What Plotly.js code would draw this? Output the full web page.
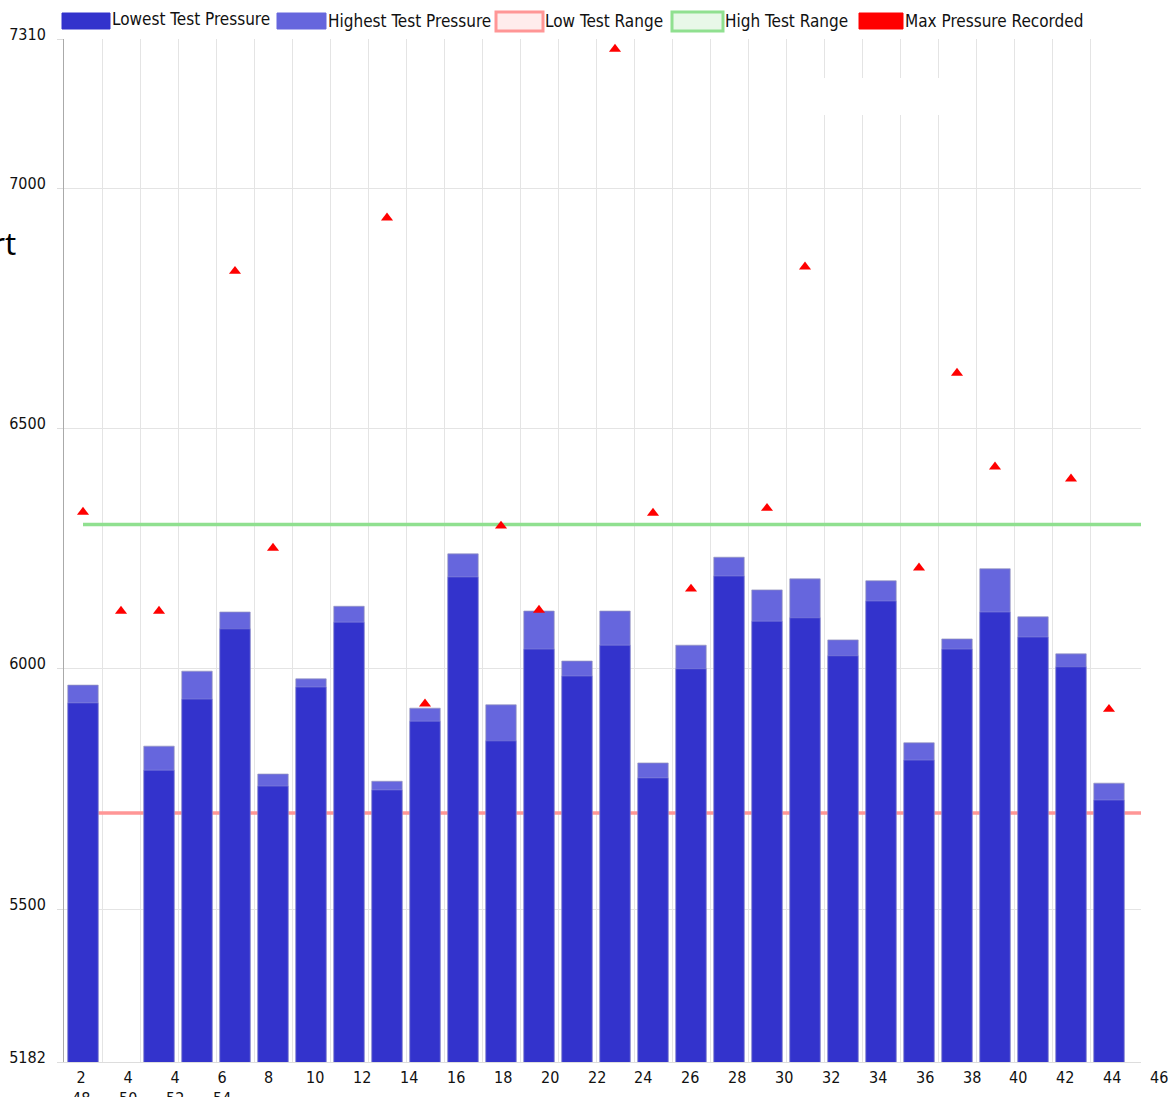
<!DOCTYPE html>
<html>
<head>
<meta charset="utf-8">
<script src="https://cdn.plot.ly/plotly-3.0.1.min.js"></script>
<style>html,body{margin:0;padding:0;background:#fff;}#chart{width:1171px;height:1097px;}</style>
</head>
<body>
<div id="chart"></div>
<script>
// ---------------- DATA ----------------
const categories = ["T01","T02","T03","T04","T05","T06","T07","T08","T09","T10","T11","T12","T13","T14",
                    "T15","T16","T17","T18","T19","T20","T21","T22","T23","T24","T25","T26","T27","T28"];
const lowestPressure  = [5929, null, 5789, 5937, 6083, 5756, 5962, 6097, 5748, 5891, 6191, 5850, 6041, 5985,
                         6049, 5773, 6000, 6193, 6099, 6106, 6027, 6141, 5810, 6041, 6118, 6066, 6004, 5727];
const highestPressure = [5966, null, 5839, 5995, 6118, 5781, 5979, 6130, 5766, 5918, 6239, 5925, 6120, 6016,
                         6120, 5804, 6049, 6232, 6164, 6187, 6060, 6183, 5846, 6062, 6208, 6108, 6031, 5762];
const maxRecorded     = [6326, 6120, 6120, null, 6827, 6251, null, null, 6938, 5927, null, 6297, 6122, null,
                         7289, 6324, 6166, null, 6334, 6836, null, null, 6210, 6615, 6420, null, 6395, 5916];
const lowTestRange  = 5700;
const highTestRange = 6300;
const seriesNames = ["Lowest Test Pressure","Highest Test Pressure","Low Test Range","High Test Range","Max Pressure Recorded"];
const xTickLabels    = ["2","4","4","6","8","10","12","14","16","18","20","22","24","26","28","30","32","34","36","38","40","42","44","46"];
const xTickLabelsRow2 = ["48","50","52","54"];
const yTicks = [5182, 5500, 6000, 6500, 7000, 7310];
const yRange = [5182, 7310];
const titleText = "Chart";

// ---------------- LAYOUT HELPERS ----------------
const W = 1171, H = 1097, ML = 64, MR = 30, MT = 39, MB = 35;
const PW = W - ML - MR, PH = H - MT - MB;
const px2x = p => (p - ML) / PW;
const py2y = p => (H - MB - p) / PH;
const slot = 38;                       // px per category
const n = categories.length;
const idx = categories.map((_, i) => i);
const xMax = -0.5 + PW / slot;
const boundaries = idx.slice(0, n - 1).map(i => i + 0.5);

const FONT = "'DejaVu Sans Condensed', 'DejaVu Sans', sans-serif";
const COL_LOW = '#3333cc', COL_HIGH = '#6666dd', COL_LR = '#ff9696', COL_HR = '#90e090', COL_MAX = '#ff0000';

// ---------------- TRACES ----------------
const traces = [
  { type: 'scatter', mode: 'lines', name: seriesNames[2], x: [0, xMax], y: [lowTestRange, lowTestRange],
    line: { color: COL_LR, width: 3.5 }, hoverinfo: 'skip', xaxis: 'x', yaxis: 'y' },
  { type: 'scatter', mode: 'lines', name: seriesNames[3], x: [0, xMax], y: [highTestRange, highTestRange],
    line: { color: COL_HR, width: 3.5 }, hoverinfo: 'skip', xaxis: 'x', yaxis: 'y' },
  { type: 'bar', name: seriesNames[1], x: idx, y: highestPressure, width: 0.8,
    marker: { color: COL_HIGH, line: { color: 'rgba(150,150,190,0.7)', width: 1 } }, xaxis: 'x', yaxis: 'y2' },
  { type: 'bar', name: seriesNames[0], x: idx, y: lowestPressure, width: 0.8,
    marker: { color: COL_LOW, line: { color: 'rgba(150,150,220,0.5)', width: 1 } }, xaxis: 'x', yaxis: 'y2' },
  { type: 'scatter', mode: 'markers', name: seriesNames[4], x: idx, y: maxRecorded,
    marker: { symbol: 'triangle-up', size: 10.5, color: COL_MAX, line: { width: 0 } }, xaxis: 'x', yaxis: 'y2' }
];

// ---------------- LEGEND (custom) ----------------
const legendBoxes = [
  { x0: 62,  x1: 110, y0: 13, y1: 29, fill: COL_LOW,   line: COL_LOW,   lw: 1, ty: 19 },
  { x0: 277, x1: 326, y0: 13, y1: 29, fill: COL_HIGH,  line: COL_HIGH,  lw: 1, ty: 21 },
  { x0: 496, x1: 543, y0: 12, y1: 31, fill: '#ffecec', line: COL_LR,    lw: 3, ty: 21 },
  { x0: 672, x1: 723, y0: 12, y1: 31, fill: '#e8f8e8', line: COL_HR,    lw: 3, ty: 21 },
  { x0: 859, x1: 903, y0: 13, y1: 29, fill: COL_MAX,   line: COL_MAX,   lw: 1, ty: 21 }
];
const legendOrder = [0, 1, 2, 3, 4];

const shapes = legendBoxes.map(b => ({
  type: 'rect', xref: 'paper', yref: 'paper', layer: 'above',
  x0: px2x(b.x0), x1: px2x(b.x1), y0: py2y(b.y1), y1: py2y(b.y0),
  fillcolor: b.fill, line: { color: b.line, width: b.lw }
}));
// white patch visible near the top of the reference grid
shapes.push({ type: 'rect', xref: 'paper', yref: 'paper', layer: 'above',
  x0: px2x(818), x1: px2x(945), y0: py2y(115), y1: py2y(78), fillcolor: '#ffffff', line: { width: 0 } });

const annotations = legendBoxes.map((b, k) => ({
  xref: 'paper', yref: 'paper', x: px2x(b.x1), y: py2y(b.ty), xanchor: 'left', yanchor: 'middle',
  text: seriesNames[legendOrder[k]], showarrow: false, font: { family: FONT, size: 17, color: '#111' }
}));

// x tick labels (text row under the axis)
const xLabelStart = 81, xLabelStep = (1159 - 81) / (xTickLabels.length - 1);
xTickLabels.forEach((t, i) => {
  const txt = i < xTickLabelsRow2.length ? t + '<br>' + xTickLabelsRow2[i] : t;
  annotations.push({ xref: 'paper', yref: 'paper', x: px2x(xLabelStart + i * xLabelStep), y: 0,
    xanchor: 'center', yanchor: 'top', yshift: -4, text: txt, showarrow: false, align: 'center',
    font: { family: FONT, size: 16, color: '#111' } });
});

// clipped title fragment on the left
annotations.push({ xref: 'paper', yref: 'paper', x: px2x(18), y: py2y(243), xanchor: 'right', yanchor: 'middle',
  text: titleText, showarrow: false, font: { family: "'Noto Sans', sans-serif", size: 31, color: '#000' } });

const layout = {
  width: W, height: H,
  margin: { l: ML, r: MR, t: MT, b: MB, pad: 0 },
  paper_bgcolor: '#ffffff', plot_bgcolor: '#ffffff',
  showlegend: false,
  barmode: 'overlay',
  font: { family: FONT, size: 16, color: '#111' },
  xaxis: {
    type: 'linear', range: [-0.5, xMax], tickmode: 'array', tickvals: boundaries,
    showticklabels: false, ticks: '', showgrid: true, gridcolor: '#e4e4e4', gridwidth: 1,
    zeroline: false, showline: true, linecolor: '#dddddd', linewidth: 1, fixedrange: true
  },
  yaxis: {
    type: 'linear', range: yRange, tickmode: 'array', tickvals: yTicks, ticktext: yTicks.map(String),
    ticks: 'outside', ticklen: 6, tickcolor: '#dddddd', ticklabelstandoff: 8, ticklabelshift: -5,
    showgrid: true, gridcolor: '#e4e4e4', gridwidth: 1, zeroline: false,
    showline: true, linecolor: '#aaaaaa', linewidth: 1,
    tickfont: { family: FONT, size: 16, color: '#111' }, fixedrange: true
  },
  yaxis2: { overlaying: 'y', range: yRange, visible: false, showgrid: false, zeroline: false, fixedrange: true },
  shapes: shapes,
  annotations: annotations
};

Plotly.newPlot('chart', traces, layout, { displayModeBar: false, staticPlot: true });
</script>
</body>
</html>
